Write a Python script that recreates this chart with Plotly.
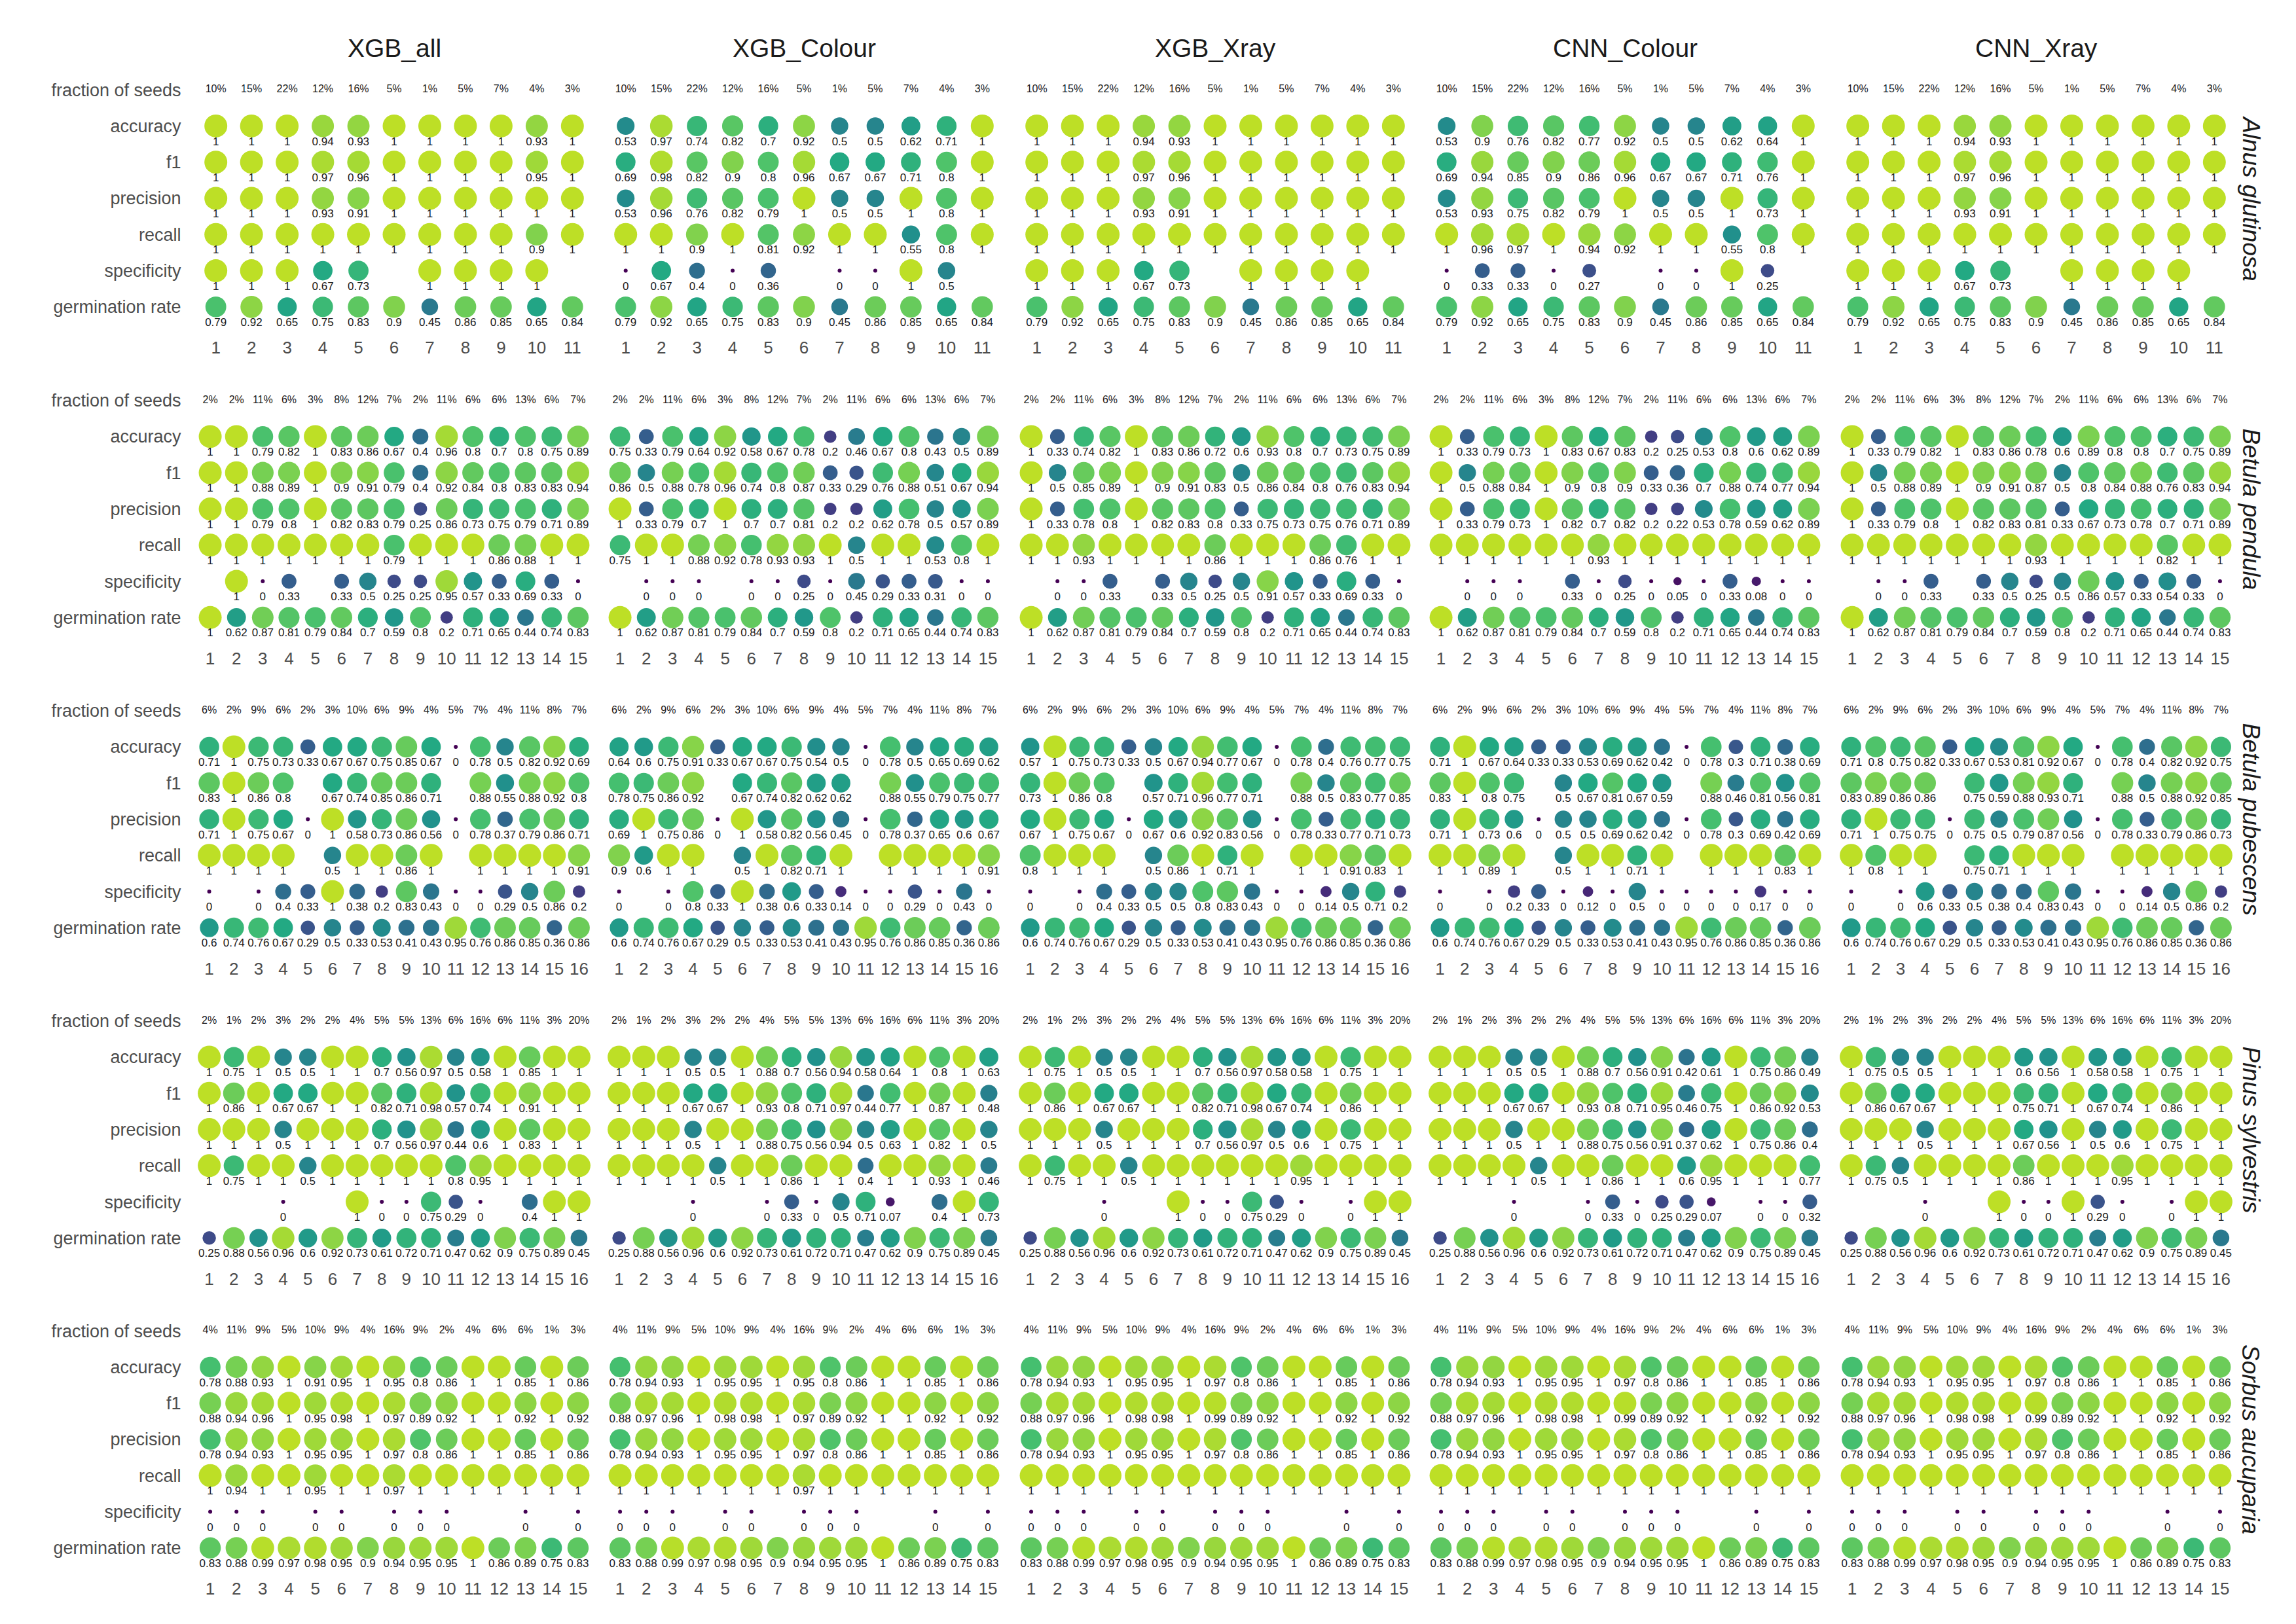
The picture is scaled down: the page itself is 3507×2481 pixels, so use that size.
import math
import plotly.graph_objects as go

N = None

MODELS = ["XGB_all", "XGB_Colour", "XGB_Xray", "CNN_Colour", "CNN_Xray"]
SPECIES = ["Alnus glutinosa", "Betula pendula", "Betula pubescens", "Pinus sylvestris", "Sorbus aucuparia"]
ROW_LABELS = ["germination rate", "specificity", "recall", "precision", "f1", "accuracy", "fraction of seeds"]

# ---------------- Alnus glutinosa ----------------
ALNUS_FRACTION = [10, 15, 22, 12, 16, 5, 1, 5, 7, 4, 3]
ALNUS_GERM = [0.79, 0.92, 0.65, 0.75, 0.83, 0.9, 0.45, 0.86, 0.85, 0.65, 0.84]
# rows: accuracy, f1, precision, recall, specificity
ALNUS_XGB_ALL = [
    [1, 1, 1, 0.94, 0.93, 1, 1, 1, 1, 0.93, 1],
    [1, 1, 1, 0.97, 0.96, 1, 1, 1, 1, 0.95, 1],
    [1, 1, 1, 0.93, 0.91, 1, 1, 1, 1, 1, 1],
    [1, 1, 1, 1, 1, 1, 1, 1, 1, 0.9, 1],
    [1, 1, 1, 0.67, 0.73, N, 1, 1, 1, 1, N],
]
ALNUS_XGB_COLOUR = [
    [0.53, 0.97, 0.74, 0.82, 0.7, 0.92, 0.5, 0.5, 0.62, 0.71, 1],
    [0.69, 0.98, 0.82, 0.9, 0.8, 0.96, 0.67, 0.67, 0.71, 0.8, 1],
    [0.53, 0.96, 0.76, 0.82, 0.79, 1, 0.5, 0.5, 1, 0.8, 1],
    [1, 1, 0.9, 1, 0.81, 0.92, 1, 1, 0.55, 0.8, 1],
    [0, 0.67, 0.4, 0, 0.36, N, 0, 0, 1, 0.5, N],
]
ALNUS_XGB_XRAY = [
    [1, 1, 1, 0.94, 0.93, 1, 1, 1, 1, 1, 1],
    [1, 1, 1, 0.97, 0.96, 1, 1, 1, 1, 1, 1],
    [1, 1, 1, 0.93, 0.91, 1, 1, 1, 1, 1, 1],
    [1, 1, 1, 1, 1, 1, 1, 1, 1, 1, 1],
    [1, 1, 1, 0.67, 0.73, N, 1, 1, 1, 1, N],
]
ALNUS_CNN_COLOUR = [
    [0.53, 0.9, 0.76, 0.82, 0.77, 0.92, 0.5, 0.5, 0.62, 0.64, 1],
    [0.69, 0.94, 0.85, 0.9, 0.86, 0.96, 0.67, 0.67, 0.71, 0.76, 1],
    [0.53, 0.93, 0.75, 0.82, 0.79, 1, 0.5, 0.5, 1, 0.73, 1],
    [1, 0.96, 0.97, 1, 0.94, 0.92, 1, 1, 0.55, 0.8, 1],
    [0, 0.33, 0.33, 0, 0.27, N, 0, 0, 1, 0.25, N],
]
ALNUS_CNN_XRAY = [
    [1, 1, 1, 0.94, 0.93, 1, 1, 1, 1, 1, 1],
    [1, 1, 1, 0.97, 0.96, 1, 1, 1, 1, 1, 1],
    [1, 1, 1, 0.93, 0.91, 1, 1, 1, 1, 1, 1],
    [1, 1, 1, 1, 1, 1, 1, 1, 1, 1, 1],
    [1, 1, 1, 0.67, 0.73, N, 1, 1, 1, 1, N],
]

# ---------------- Betula pendula ----------------
BPEND_FRACTION = [2, 2, 11, 6, 3, 8, 12, 7, 2, 11, 6, 6, 13, 6, 7]
BPEND_GERM = [1, 0.62, 0.87, 0.81, 0.79, 0.84, 0.7, 0.59, 0.8, 0.2, 0.71, 0.65, 0.44, 0.74, 0.83]
BPEND_XGB_ALL = [
    [1, 1, 0.79, 0.82, 1, 0.83, 0.86, 0.67, 0.4, 0.96, 0.8, 0.7, 0.8, 0.75, 0.89],
    [1, 1, 0.88, 0.89, 1, 0.9, 0.91, 0.79, 0.4, 0.92, 0.84, 0.8, 0.83, 0.83, 0.94],
    [1, 1, 0.79, 0.8, 1, 0.82, 0.83, 0.79, 0.25, 0.86, 0.73, 0.75, 0.79, 0.71, 0.89],
    [1, 1, 1, 1, 1, 1, 1, 0.79, 1, 1, 1, 0.86, 0.88, 1, 1],
    [N, 1, 0, 0.33, N, 0.33, 0.5, 0.25, 0.25, 0.95, 0.57, 0.33, 0.69, 0.33, 0],
]
BPEND_XGB_COLOUR = [
    [0.75, 0.33, 0.79, 0.64, 0.92, 0.58, 0.67, 0.78, 0.2, 0.46, 0.67, 0.8, 0.43, 0.5, 0.89],
    [0.86, 0.5, 0.88, 0.78, 0.96, 0.74, 0.8, 0.87, 0.33, 0.29, 0.76, 0.88, 0.51, 0.67, 0.94],
    [1, 0.33, 0.79, 0.7, 1, 0.7, 0.7, 0.81, 0.2, 0.2, 0.62, 0.78, 0.5, 0.57, 0.89],
    [0.75, 1, 1, 0.88, 0.92, 0.78, 0.93, 0.93, 1, 0.5, 1, 1, 0.53, 0.8, 1],
    [N, 0, 0, 0, N, 0, 0, 0.25, 0, 0.45, 0.29, 0.33, 0.31, 0, 0],
]
BPEND_XGB_XRAY = [
    [1, 0.33, 0.74, 0.82, 1, 0.83, 0.86, 0.72, 0.6, 0.93, 0.8, 0.7, 0.73, 0.75, 0.89],
    [1, 0.5, 0.85, 0.89, 1, 0.9, 0.91, 0.83, 0.5, 0.86, 0.84, 0.8, 0.76, 0.83, 0.94],
    [1, 0.33, 0.78, 0.8, 1, 0.82, 0.83, 0.8, 0.33, 0.75, 0.73, 0.75, 0.76, 0.71, 0.89],
    [1, 1, 0.93, 1, 1, 1, 1, 0.86, 1, 1, 1, 0.86, 0.76, 1, 1],
    [N, 0, 0, 0.33, N, 0.33, 0.5, 0.25, 0.5, 0.91, 0.57, 0.33, 0.69, 0.33, 0],
]
BPEND_CNN_COLOUR = [
    [1, 0.33, 0.79, 0.73, 1, 0.83, 0.67, 0.83, 0.2, 0.25, 0.53, 0.8, 0.6, 0.62, 0.89],
    [1, 0.5, 0.88, 0.84, 1, 0.9, 0.8, 0.9, 0.33, 0.36, 0.7, 0.88, 0.74, 0.77, 0.94],
    [1, 0.33, 0.79, 0.73, 1, 0.82, 0.7, 0.82, 0.2, 0.22, 0.53, 0.78, 0.59, 0.62, 0.89],
    [1, 1, 1, 1, 1, 1, 0.93, 1, 1, 1, 1, 1, 1, 1, 1],
    [N, 0, 0, 0, N, 0.33, 0, 0.25, 0, 0.05, 0, 0.33, 0.08, 0, 0],
]
BPEND_CNN_XRAY = [
    [1, 0.33, 0.79, 0.82, 1, 0.83, 0.86, 0.78, 0.6, 0.89, 0.8, 0.8, 0.7, 0.75, 0.89],
    [1, 0.5, 0.88, 0.89, 1, 0.9, 0.91, 0.87, 0.5, 0.8, 0.84, 0.88, 0.76, 0.83, 0.94],
    [1, 0.33, 0.79, 0.8, 1, 0.82, 0.83, 0.81, 0.33, 0.67, 0.73, 0.78, 0.7, 0.71, 0.89],
    [1, 1, 1, 1, 1, 1, 1, 0.93, 1, 1, 1, 1, 0.82, 1, 1],
    [N, 0, 0, 0.33, N, 0.33, 0.5, 0.25, 0.5, 0.86, 0.57, 0.33, 0.54, 0.33, 0],
]

# ---------------- Betula pubescens ----------------
BPUB_FRACTION = [6, 2, 9, 6, 2, 3, 10, 6, 9, 4, 5, 7, 4, 11, 8, 7]
BPUB_GERM = [0.6, 0.74, 0.76, 0.67, 0.29, 0.5, 0.33, 0.53, 0.41, 0.43, 0.95, 0.76, 0.86, 0.85, 0.36, 0.86]
BPUB_XGB_ALL = [
    [0.71, 1, 0.75, 0.73, 0.33, 0.67, 0.67, 0.75, 0.85, 0.67, 0, 0.78, 0.5, 0.82, 0.92, 0.69],
    [0.83, 1, 0.86, 0.8, N, 0.67, 0.74, 0.85, 0.86, 0.71, N, 0.88, 0.55, 0.88, 0.92, 0.8],
    [0.71, 1, 0.75, 0.67, 0, 1, 0.58, 0.73, 0.86, 0.56, 0, 0.78, 0.37, 0.79, 0.86, 0.71],
    [1, 1, 1, 1, N, 0.5, 1, 1, 0.86, 1, N, 1, 1, 1, 1, 0.91],
    [0, N, 0, 0.4, 0.33, 1, 0.38, 0.2, 0.83, 0.43, 0, 0, 0.29, 0.5, 0.86, 0.2],
]
BPUB_XGB_COLOUR = [
    [0.64, 0.6, 0.75, 0.91, 0.33, 0.67, 0.67, 0.75, 0.54, 0.5, 0, 0.78, 0.5, 0.65, 0.69, 0.62],
    [0.78, 0.75, 0.86, 0.92, N, 0.67, 0.74, 0.82, 0.62, 0.62, N, 0.88, 0.55, 0.79, 0.75, 0.77],
    [0.69, 1, 0.75, 0.86, 0, 1, 0.58, 0.82, 0.56, 0.45, 0, 0.78, 0.37, 0.65, 0.6, 0.67],
    [0.9, 0.6, 1, 1, N, 0.5, 1, 0.82, 0.71, 1, N, 1, 1, 1, 1, 0.91],
    [0, N, 0, 0.8, 0.33, 1, 0.38, 0.6, 0.33, 0.14, 0, 0, 0.29, 0, 0.43, 0],
]
BPUB_XGB_XRAY = [
    [0.57, 1, 0.75, 0.73, 0.33, 0.5, 0.67, 0.94, 0.77, 0.67, 0, 0.78, 0.4, 0.76, 0.77, 0.75],
    [0.73, 1, 0.86, 0.8, N, 0.57, 0.71, 0.96, 0.77, 0.71, N, 0.88, 0.5, 0.83, 0.77, 0.85],
    [0.67, 1, 0.75, 0.67, 0, 0.67, 0.6, 0.92, 0.83, 0.56, 0, 0.78, 0.33, 0.77, 0.71, 0.73],
    [0.8, 1, 1, 1, N, 0.5, 0.86, 1, 0.71, 1, N, 1, 1, 0.91, 0.83, 1],
    [0, N, 0, 0.4, 0.33, 0.5, 0.5, 0.8, 0.83, 0.43, 0, 0, 0.14, 0.5, 0.71, 0.2],
]
BPUB_CNN_COLOUR = [
    [0.71, 1, 0.67, 0.64, 0.33, 0.33, 0.53, 0.69, 0.62, 0.42, 0, 0.78, 0.3, 0.71, 0.38, 0.69],
    [0.83, 1, 0.8, 0.75, N, 0.5, 0.67, 0.81, 0.67, 0.59, N, 0.88, 0.46, 0.81, 0.56, 0.81],
    [0.71, 1, 0.73, 0.6, 0, 0.5, 0.5, 0.69, 0.62, 0.42, 0, 0.78, 0.3, 0.69, 0.42, 0.69],
    [1, 1, 0.89, 1, N, 0.5, 1, 1, 0.71, 1, N, 1, 1, 1, 0.83, 1],
    [0, N, 0, 0.2, 0.33, 0, 0.12, 0, 0.5, 0, 0, 0, 0, 0.17, 0, 0],
]
BPUB_CNN_XRAY = [
    [0.71, 0.8, 0.75, 0.82, 0.33, 0.67, 0.53, 0.81, 0.92, 0.67, 0, 0.78, 0.4, 0.82, 0.92, 0.75],
    [0.83, 0.89, 0.86, 0.86, N, 0.75, 0.59, 0.88, 0.93, 0.71, N, 0.88, 0.5, 0.88, 0.92, 0.85],
    [0.71, 1, 0.75, 0.75, 0, 0.75, 0.5, 0.79, 0.87, 0.56, 0, 0.78, 0.33, 0.79, 0.86, 0.73],
    [1, 0.8, 1, 1, N, 0.75, 0.71, 1, 1, 1, N, 1, 1, 1, 1, 1],
    [0, N, 0, 0.6, 0.33, 0.5, 0.38, 0.4, 0.83, 0.43, 0, 0, 0.14, 0.5, 0.86, 0.2],
]

# ---------------- Pinus sylvestris ----------------
PINUS_FRACTION = [2, 1, 2, 3, 2, 2, 4, 5, 5, 13, 6, 16, 6, 11, 3, 20]
PINUS_GERM = [0.25, 0.88, 0.56, 0.96, 0.6, 0.92, 0.73, 0.61, 0.72, 0.71, 0.47, 0.62, 0.9, 0.75, 0.89, 0.45]
PINUS_XGB_ALL = [
    [1, 0.75, 1, 0.5, 0.5, 1, 1, 0.7, 0.56, 0.97, 0.5, 0.58, 1, 0.85, 1, 1],
    [1, 0.86, 1, 0.67, 0.67, 1, 1, 0.82, 0.71, 0.98, 0.57, 0.74, 1, 0.91, 1, 1],
    [1, 1, 1, 0.5, 1, 1, 1, 0.7, 0.56, 0.97, 0.44, 0.6, 1, 0.83, 1, 1],
    [1, 0.75, 1, 1, 0.5, 1, 1, 1, 1, 1, 0.8, 0.95, 1, 1, 1, 1],
    [N, N, N, 0, N, N, 1, 0, 0, 0.75, 0.29, 0, N, 0.4, 1, 1],
]
PINUS_XGB_COLOUR = [
    [1, 1, 1, 0.5, 0.5, 1, 0.88, 0.7, 0.56, 0.94, 0.58, 0.64, 1, 0.8, 1, 0.63],
    [1, 1, 1, 0.67, 0.67, 1, 0.93, 0.8, 0.71, 0.97, 0.44, 0.77, 1, 0.87, 1, 0.48],
    [1, 1, 1, 0.5, 1, 1, 0.88, 0.75, 0.56, 0.94, 0.5, 0.63, 1, 0.82, 1, 0.5],
    [1, 1, 1, 1, 0.5, 1, 1, 0.86, 1, 1, 0.4, 1, 1, 0.93, 1, 0.46],
    [N, N, N, 0, N, N, 0, 0.33, 0, 0.5, 0.71, 0.07, N, 0.4, 1, 0.73],
]
PINUS_XGB_XRAY = [
    [1, 0.75, 1, 0.5, 0.5, 1, 1, 0.7, 0.56, 0.97, 0.58, 0.58, 1, 0.75, 1, 1],
    [1, 0.86, 1, 0.67, 0.67, 1, 1, 0.82, 0.71, 0.98, 0.67, 0.74, 1, 0.86, 1, 1],
    [1, 1, 1, 0.5, 1, 1, 1, 0.7, 0.56, 0.97, 0.5, 0.6, 1, 0.75, 1, 1],
    [1, 0.75, 1, 1, 0.5, 1, 1, 1, 1, 1, 1, 0.95, 1, 1, 1, 1],
    [N, N, N, 0, N, N, 1, 0, 0, 0.75, 0.29, 0, N, 0, 1, 1],
]
PINUS_CNN_COLOUR = [
    [1, 1, 1, 0.5, 0.5, 1, 0.88, 0.7, 0.56, 0.91, 0.42, 0.61, 1, 0.75, 0.86, 0.49],
    [1, 1, 1, 0.67, 0.67, 1, 0.93, 0.8, 0.71, 0.95, 0.46, 0.75, 1, 0.86, 0.92, 0.53],
    [1, 1, 1, 0.5, 1, 1, 0.88, 0.75, 0.56, 0.91, 0.37, 0.62, 1, 0.75, 0.86, 0.4],
    [1, 1, 1, 1, 0.5, 1, 1, 0.86, 1, 1, 0.6, 0.95, 1, 1, 1, 0.77],
    [N, N, N, 0, N, N, 0, 0.33, 0, 0.25, 0.29, 0.07, N, 0, 0, 0.32],
]
PINUS_CNN_XRAY = [
    [1, 0.75, 0.5, 0.5, 1, 1, 1, 0.6, 0.56, 1, 0.58, 0.58, 1, 0.75, 1, 1],
    [1, 0.86, 0.67, 0.67, 1, 1, 1, 0.75, 0.71, 1, 0.67, 0.74, 1, 0.86, 1, 1],
    [1, 1, 1, 0.5, 1, 1, 1, 0.67, 0.56, 1, 0.5, 0.6, 1, 0.75, 1, 1],
    [1, 0.75, 0.5, 1, 1, 1, 1, 0.86, 1, 1, 1, 0.95, 1, 1, 1, 1],
    [N, N, N, 0, N, N, 1, 0, 0, 1, 0.29, 0, N, 0, 1, 1],
]

# ---------------- Sorbus aucuparia ----------------
SORBUS_FRACTION = [4, 11, 9, 5, 10, 9, 4, 16, 9, 2, 4, 6, 6, 1, 3]
SORBUS_GERM = [0.83, 0.88, 0.99, 0.97, 0.98, 0.95, 0.9, 0.94, 0.95, 0.95, 1, 0.86, 0.89, 0.75, 0.83]
SORBUS_XGB_ALL = [
    [0.78, 0.88, 0.93, 1, 0.91, 0.95, 1, 0.95, 0.8, 0.86, 1, 1, 0.85, 1, 0.86],
    [0.88, 0.94, 0.96, 1, 0.95, 0.98, 1, 0.97, 0.89, 0.92, 1, 1, 0.92, 1, 0.92],
    [0.78, 0.94, 0.93, 1, 0.95, 0.95, 1, 0.97, 0.8, 0.86, 1, 1, 0.85, 1, 0.86],
    [1, 0.94, 1, 1, 0.95, 1, 1, 0.97, 1, 1, 1, 1, 1, 1, 1],
    [0, 0, 0, N, 0, 0, N, 0, 0, 0, N, N, 0, N, 0],
]
SORBUS_XGB_COLOUR = [
    [0.78, 0.94, 0.93, 1, 0.95, 0.95, 1, 0.95, 0.8, 0.86, 1, 1, 0.85, 1, 0.86],
    [0.88, 0.97, 0.96, 1, 0.98, 0.98, 1, 0.97, 0.89, 0.92, 1, 1, 0.92, 1, 0.92],
    [0.78, 0.94, 0.93, 1, 0.95, 0.95, 1, 0.97, 0.8, 0.86, 1, 1, 0.85, 1, 0.86],
    [1, 1, 1, 1, 1, 1, 1, 0.97, 1, 1, 1, 1, 1, 1, 1],
    [0, 0, 0, N, 0, 0, N, 0, 0, 0, N, N, 0, N, 0],
]
SORBUS_XGB_XRAY = [
    [0.78, 0.94, 0.93, 1, 0.95, 0.95, 1, 0.97, 0.8, 0.86, 1, 1, 0.85, 1, 0.86],
    [0.88, 0.97, 0.96, 1, 0.98, 0.98, 1, 0.99, 0.89, 0.92, 1, 1, 0.92, 1, 0.92],
    [0.78, 0.94, 0.93, 1, 0.95, 0.95, 1, 0.97, 0.8, 0.86, 1, 1, 0.85, 1, 0.86],
    [1, 1, 1, 1, 1, 1, 1, 1, 1, 1, 1, 1, 1, 1, 1],
    [0, 0, 0, N, 0, 0, N, 0, 0, 0, N, N, 0, N, 0],
]
SORBUS_CNN_COLOUR = [
    [0.78, 0.94, 0.93, 1, 0.95, 0.95, 1, 0.97, 0.8, 0.86, 1, 1, 0.85, 1, 0.86],
    [0.88, 0.97, 0.96, 1, 0.98, 0.98, 1, 0.99, 0.89, 0.92, 1, 1, 0.92, 1, 0.92],
    [0.78, 0.94, 0.93, 1, 0.95, 0.95, 1, 0.97, 0.8, 0.86, 1, 1, 0.85, 1, 0.86],
    [1, 1, 1, 1, 1, 1, 1, 1, 1, 1, 1, 1, 1, 1, 1],
    [0, 0, 0, N, 0, 0, N, 0, 0, 0, N, N, 0, N, 0],
]
SORBUS_CNN_XRAY = [
    [0.78, 0.94, 0.93, 1, 0.95, 0.95, 1, 0.97, 0.8, 0.86, 1, 1, 0.85, 1, 0.86],
    [0.88, 0.97, 0.96, 1, 0.98, 0.98, 1, 0.99, 0.89, 0.92, 1, 1, 0.92, 1, 0.92],
    [0.78, 0.94, 0.93, 1, 0.95, 0.95, 1, 0.97, 0.8, 0.86, 1, 1, 0.85, 1, 0.86],
    [1, 1, 1, 1, 1, 1, 1, 1, 1, 1, 1, 1, 1, 1, 1],
    [0, 0, 0, N, 0, 0, N, 0, 0, 0, N, N, 0, N, 0],
]

FRACTIONS = [ALNUS_FRACTION, BPEND_FRACTION, BPUB_FRACTION, PINUS_FRACTION, SORBUS_FRACTION]
GERMS = [ALNUS_GERM, BPEND_GERM, BPUB_GERM, PINUS_GERM, SORBUS_GERM]
PANELS = [
    [ALNUS_XGB_ALL, ALNUS_XGB_COLOUR, ALNUS_XGB_XRAY, ALNUS_CNN_COLOUR, ALNUS_CNN_XRAY],
    [BPEND_XGB_ALL, BPEND_XGB_COLOUR, BPEND_XGB_XRAY, BPEND_CNN_COLOUR, BPEND_CNN_XRAY],
    [BPUB_XGB_ALL, BPUB_XGB_COLOUR, BPUB_XGB_XRAY, BPUB_CNN_COLOUR, BPUB_CNN_XRAY],
    [PINUS_XGB_ALL, PINUS_XGB_COLOUR, PINUS_XGB_XRAY, PINUS_CNN_COLOUR, PINUS_CNN_XRAY],
    [SORBUS_XGB_ALL, SORBUS_XGB_COLOUR, SORBUS_XGB_XRAY, SORBUS_CNN_COLOUR, SORBUS_CNN_XRAY],
]

# ---------------- styling / geometry ----------------
W, H = 3507, 2481
FONT = "Liberation Sans, Arial, Helvetica, sans-serif"
VIRIDIS_09 = ["#440154", "#482475", "#414487", "#355F8D", "#2A788E",
              "#21918C", "#22A884", "#44BF70", "#7AD151", "#BDDF26"]
COLORSCALE = [[i / 9, c] for i, c in enumerate(VIRIDIS_09)]
COL_LEFT = [289, 915, 1543, 2169, 2797]
PANEL_W = 610
ROW_TOP = [96, 570.5, 1044.5, 1518.5, 1992]
PANEL_H = 398
LABEL_OFFSET = 0.45


def fmt(v):
    return f"{v:g}"


def dot_size(v):
    return 6 + 29 * math.sqrt(v)


fig = go.Figure()
layout = dict(
    width=W, height=H,
    margin=dict(l=0, r=0, t=0, b=0),
    paper_bgcolor="white", plot_bgcolor="white",
    showlegend=False,
    font=dict(family=FONT),
)
annotations = []

for r in range(5):
    n = len(FRACTIONS[r])
    lots = list(range(1, n + 1))
    for c in range(5):
        k = r * 5 + c + 1
        xa = "x" if k == 1 else f"x{k}"
        ya = "y" if k == 1 else f"y{k}"
        metric_rows = PANELS[r][c] + [GERMS[r]]
        # metric y positions: accuracy 6, f1 5, precision 4, recall 3, specificity 2, germination 1
        ys = [6, 5, 4, 3, 2, 1]
        px, py, pv = [], [], []
        for vals, yv in zip(metric_rows, ys):
            for lot, v in zip(lots, vals):
                if v is None:
                    continue
                px.append(lot)
                py.append(yv)
                pv.append(v)
        fig.add_trace(go.Scatter(
            x=px, y=py, mode="markers", xaxis=xa, yaxis=ya,
            marker=dict(size=[dot_size(v) for v in pv], color=pv,
                        colorscale=COLORSCALE, cmin=0, cmax=1,
                        line=dict(width=0), opacity=1),
            hoverinfo="skip", cliponaxis=False,
        ))
        fig.add_trace(go.Scatter(
            x=px, y=[yv - LABEL_OFFSET for yv in py], mode="text",
            text=[fmt(v) for v in pv], xaxis=xa, yaxis=ya,
            textfont=dict(size=17, color="#1a1a1a", family=FONT),
            textposition="middle center", hoverinfo="skip", cliponaxis=False,
        ))
        fig.add_trace(go.Scatter(
            x=lots, y=[7] * n, mode="text",
            text=[f"{f}%" for f in FRACTIONS[r]], xaxis=xa, yaxis=ya,
            textfont=dict(size=16, color="#1a1a1a", family=FONT),
            textposition="middle center", hoverinfo="skip", cliponaxis=False,
        ))
        x0 = COL_LEFT[c] / W
        x1 = (COL_LEFT[c] + PANEL_W) / W
        y1 = 1 - ROW_TOP[r] / H
        y0 = 1 - (ROW_TOP[r] + PANEL_H) / H
        layout["xaxis" if k == 1 else f"xaxis{k}"] = dict(
            domain=[x0, x1], range=[0.4, n + 0.6], anchor=ya,
            tickmode="array", tickvals=lots, ticktext=[str(l) for l in lots],
            tickfont=dict(size=26, color="#4D4D4D", family=FONT),
            ticks="outside", ticklen=6, tickcolor="rgba(0,0,0,0)",
            showgrid=False, zeroline=False, showline=False, fixedrange=True,
        )
        layout["yaxis" if k == 1 else f"yaxis{k}"] = dict(
            domain=[y0, y1], range=[0.4, 7.6], anchor=xa,
            tickmode="array", tickvals=[1, 2, 3, 4, 5, 6, 7], ticktext=ROW_LABELS,
            showticklabels=(c == 0),
            tickfont=dict(size=27, color="#4D4D4D", family=FONT),
            ticks="outside", ticklen=14, tickcolor="rgba(0,0,0,0)",
            showgrid=False, zeroline=False, showline=False, fixedrange=True,
        )

# column titles
for c, name in enumerate(MODELS):
    annotations.append(dict(
        x=(COL_LEFT[c] + PANEL_W / 2) / W, y=1 - 65 / H, xref="paper", yref="paper",
        text=name, showarrow=False, xanchor="center", yanchor="middle",
        font=dict(size=39, color="#1A1A1A", family=FONT),
    ))
# species strips
for r, sp in enumerate(SPECIES):
    annotations.append(dict(
        x=3430 / W, y=1 - (ROW_TOP[r] + PANEL_H / 2) / H, xref="paper", yref="paper",
        text=f"<i>{sp}</i>", showarrow=False, xanchor="center", yanchor="middle",
        textangle=90, font=dict(size=37, color="#1A1A1A", family=FONT),
    ))

layout["annotations"] = annotations
fig.update_layout(**layout)
fig.write_html("out.html")
